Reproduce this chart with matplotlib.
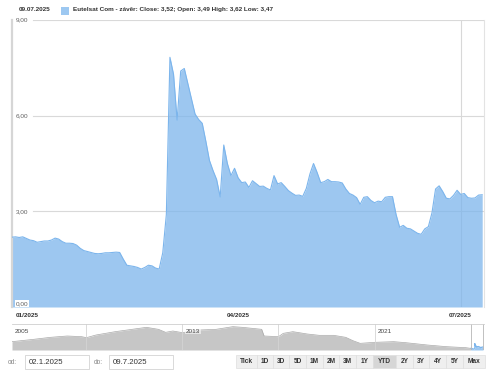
import numpy as np
import pandas as pd
import matplotlib
matplotlib.use("Agg")
import matplotlib.pyplot as plt
from matplotlib.patches import Rectangle

W, H = 500, 381

# zaviraci ceny, obchodni dny 2.1.2025 - 9.7.2025
closes = [2.19, 2.20, 2.18, 2.20, 2.15, 2.10, 2.08, 2.03, 2.05, 2.07,
          2.07, 2.10, 2.16, 2.13, 2.05, 2.00, 2.00, 1.99, 1.94, 1.84,
          1.77, 1.74, 1.71, 1.68, 1.67, 1.68, 1.70, 1.70, 1.71, 1.72,
          1.71, 1.50, 1.31, 1.29, 1.27, 1.24, 1.19, 1.24, 1.31, 1.29,
          1.22, 1.19, 1.70, 2.90, 7.83, 7.30, 5.86, 7.40, 7.48, 7.00,
          6.52, 6.05, 5.88, 5.76, 5.20, 4.60, 4.28, 4.00, 3.45, 5.08,
          4.50, 4.12, 4.35, 4.05, 3.90, 3.92, 3.75, 3.96, 3.87, 3.78,
          3.79, 3.72, 3.67, 4.12, 3.86, 3.90, 3.78, 3.65, 3.57, 3.50,
          3.51, 3.47, 3.72, 4.17, 4.50, 4.22, 3.90, 3.93, 4.00, 3.93,
          3.93, 3.92, 3.89, 3.70, 3.56, 3.51, 3.43, 3.22, 3.44, 3.46,
          3.34, 3.27, 3.32, 3.30, 3.44, 3.46, 3.46, 2.90, 2.50, 2.56,
          2.47, 2.45, 2.38, 2.31, 2.28, 2.45, 2.52, 2.95, 3.70, 3.80,
          3.62, 3.41, 3.39, 3.50, 3.66, 3.53, 3.56, 3.43, 3.41, 3.42,
          3.51, 3.52]
holidays = ['2025-04-18', '2025-04-21', '2025-05-01']

yticks = [0, 3, 6, 9]
ytick_labels = ['0,00', '3,00', '6,00', '9,00']
xtick_dates = ['2025-01-02', '2025-04-01', '2025-07-01']
xtick_labels = ['01/2025', '04/2025', '07/2025']

# navigator - cela historie
nav_years = [2005.9, 2006.8, 2007.5, 2008.2, 2008.8, 2009.0, 2009.4, 2010.2,
             2010.9, 2011.5, 2012.0, 2012.3, 2012.6, 2013.0, 2013.7, 2014.4,
             2015.1, 2015.5, 2015.9, 2016.3, 2016.4, 2017.0, 2017.2, 2017.6,
             2018.2, 2018.7, 2019.3, 2019.8, 2020.1, 2020.4, 2021.0, 2021.8,
             2022.3, 2023.2, 2024.0, 2024.8, 2025.0]
nav_prices = [10.0, 12.8, 15.2, 16.8, 16.0, 14.8, 18.0, 22.0,
              24.8, 27.2, 24.8, 21.2, 22.8, 20.8, 24.0, 24.8,
              28.0, 27.2, 26.0, 24.8, 16.8, 16.0, 20.0, 22.0,
              19.2, 17.6, 17.6, 15.2, 11.2, 8.0, 9.2, 10.0,
              8.8, 6.0, 4.0, 2.8, 2.0]
nav_lines = [2009, 2013, 2017, 2021]
nav_labels = ['2005', '2013', '2021']

buttons = ['Tick', '1D', '3D', '5D', '1M', '2M', '3M', '1Y', 'YTD',
           '2Y', '3Y', '4Y', '5Y', 'Max']
button_edges = [236, 257, 273, 289, 306, 323, 339, 356, 373, 396, 413,
                429, 446, 463, 485]

plt.rcParams['font.family'] = ['Liberation Sans', 'DejaVu Sans']

def fx(px):
    return px / W

def fy(py):
    return 1 - py / H

dates = pd.bdate_range('2025-01-02', '2025-07-09', freq='C', holidays=holidays)
dates = dates[:len(closes)]
x = np.arange(len(closes))
tick_pos = dates.get_indexer(pd.to_datetime(xtick_dates))

fig = plt.figure(figsize=(W / 100, H / 100), dpi=100)

# ---------- hlavni graf ----------
ax = fig.add_axes([fx(12), fy(307), 472 / W, 287 / H])
ax.fill_between(x, closes, color='#7cb5ec', alpha=0.75, lw=0, zorder=2)
ax.plot(x, closes, color='#7cb5ec', lw=0.8, zorder=3)
ax.set_xlim(0, len(closes) - 1 + 0.5)
ax.set_ylim(0, 9)
ax.set_xticks([])
ax.set_yticks([])
for s in ['top', 'bottom']:
    ax.spines[s].set_visible(False)
ax.spines['left'].set_color('#d6d6d6')
ax.spines['left'].set_linewidth(1.6)
ax.spines['right'].set_color('#e3e3e3')
ax.spines['right'].set_linewidth(0.8)

for yv, lab in zip(yticks, ytick_labels):
    if yv > 0:
        ax.axhline(yv, xmin=21 / 472, color='#d9d9d9', lw=0.8, zorder=1)
        ax.text(0.008, yv, lab, transform=ax.get_yaxis_transform(),
                ha='left', va='center', fontsize=4.6, color='#606060')
    else:
        ax.text(0.008, yv + 0.03, lab, transform=ax.get_yaxis_transform(),
                ha='left', va='bottom', fontsize=4.6, color='#606060', zorder=5,
                bbox=dict(fc='white', ec='none', pad=0.6))

ax.axvline(tick_pos[2], color='#d8d8d8', lw=0.8, zorder=1)

xt = ax.get_xaxis_transform()
ax.text(tick_pos[0] + 1.1, -0.028, xtick_labels[0], transform=xt, ha='left',
        va='center', fontsize=4.6, fontweight='bold', color='#333333')
for p, lab in zip(tick_pos[1:], xtick_labels[1:]):
    ax.text(p, -0.028, lab, transform=xt, ha='center', va='center',
            fontsize=4.6, fontweight='bold', color='#333333')

# hlavicka
fig.text(fx(19), fy(9.5), dates[-1].strftime('%d.%m.%Y'), ha='left', va='center',
         fontsize=4.6, fontweight='bold', color='#333333')
fig.add_artist(Rectangle((fx(61), fy(14.5)), 8 / W, 8 / H, transform=fig.transFigure,
                         fc='#9dc8f1', ec='none'))
fig.text(fx(73), fy(9.5),
         'Eutelsat Com - závěr: Close: 3,52; Open: 3,49 High: 3,62 Low: 3,47',
         ha='left', va='center', fontsize=4.6, fontweight='bold', color='#333333')

# ---------- navigator ----------
nav = fig.add_axes([fx(12), fy(350), 472 / W, 26 / H])
nav.fill_between(nav_years, nav_prices, color='#c6c6c6', lw=0)
nav.plot(nav_years, nav_prices, color='#a9a9a9', lw=0.5)
yr = [d.year + (d.dayofyear - 1) / 365 for d in dates]
nav.fill_between(yr, closes, color='#7cb5ec', alpha=0.75, lw=0)
nav.plot(yr, closes, color='#7cb5ec', lw=0.6)
nav.set_xlim(2005.9, 2025.56)
nav.set_ylim(0, 31.2)
nav.set_xticks([])
nav.set_yticks([])
for s in ['left', 'right', 'bottom']:
    nav.spines[s].set_visible(False)
nav.spines['top'].set_color('#cfcfcf')
nav.spines['top'].set_linewidth(0.6)
for yl in nav_lines:
    nav.axvline(yl, color='#d4d4d4', lw=0.6)
nav.axvline(2025.0, color='#b5b5b5', lw=0.6)
nav.axvline(2025.52, color='#b5b5b5', lw=0.6)
for lab in nav_labels:
    xv = max(float(lab), 2005.9) + 0.13
    nav.text(xv, 0.73, lab, transform=nav.get_xaxis_transform(), ha='left',
             va='center', fontsize=4.6, color='#444444',
             bbox=dict(fc='white', ec='none', alpha=0.55, pad=0.5) if lab == '2013' else None)

# ---------- ovladani ----------
fig.text(fx(8), fy(362), 'od:', ha='left', va='center', fontsize=4.8, color='#888888')
fig.text(fx(94), fy(362), 'do:', ha='left', va='center', fontsize=4.8, color='#888888')
for x0, x1, txt in [(25, 89, '02.1.2025'), (109, 173, '09.7.2025')]:
    fig.add_artist(Rectangle((fx(x0), fy(369)), (x1 - x0) / W, 14 / H,
                             transform=fig.transFigure, fc='white', ec='#d3d3d3', lw=0.6))
    fig.text(fx(x0 + 4), fy(362), txt, ha='left', va='center', fontsize=5.6,
             color='#333333')

for i, b in enumerate(buttons):
    x0, x1 = button_edges[i], button_edges[i + 1]
    fc = '#d6d6d6' if b == 'YTD' else '#efefef'
    fig.add_artist(Rectangle((fx(x0), fy(368)), (x1 - x0) / W, 13 / H,
                             transform=fig.transFigure, fc=fc, ec='#dedede', lw=0.5))
    fig.text(fx((x0 + x1) / 2), fy(361.5), b, ha='center', va='center',
             fontsize=4.7, fontweight='bold', color='#333333')

fig.savefig('out.png', dpi=100)
